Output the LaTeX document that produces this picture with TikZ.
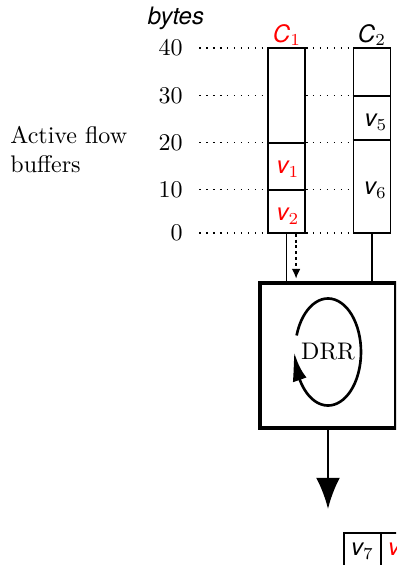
\documentclass[tikz,border=0pt]{standalone}
\usepackage{fontspec}
\newfontfamily\hv{TeX Gyre Heros}
\usetikzlibrary{arrows.meta,bending}

% sans italic letter for queue and packet names
\newcommand{\sv}[1]{{\hv\itshape #1}}

\begin{document}
\begin{tikzpicture}[x=0.4167pt, y=-0.4167pt,
  every node/.style={inner sep=0pt},
  buf/.style={draw, line width=0.8pt, minimum width=15.42pt, minimum height=77.1pt},
  cell/.style={draw, line width=0.55pt, minimum width=15.42pt, minimum height=15.42pt},
  sched/.style={draw, line width=1.3pt, minimum width=56.67pt, minimum height=60.42pt},
  divider/.style={line width=0.8pt},
  guide/.style={line width=0.65pt, dash pattern=on 0.65pt off 2.25pt},
  wire/.style={line width=0.6pt},
  hint/.style={line width=0.6pt, dash pattern=on 1.2pt off 1.2pt, -{Latex[length=4pt,width=3.6pt]}, shorten >=1.2pt},
  drrloop/.style={line width=1.1pt, -{Latex[length=12pt,width=6pt,bend]}},
  outlink/.style={line width=1.1pt, -{Latex[length=13pt,width=10pt]}},
  level/.style={anchor=east}
]
\useasboundingbox (0,0) rectangle (396,565);
\clip (0,0) rectangle (396,565);

% axis
\node (unit) at (176,18.5) {\sv{bytes}};
\node[level] (n40) at (183,48) {40};
\node[level] (n30) at (183,95.3) {30};
\node[level] (n20) at (183,142.3) {20};
\node[level] (n10) at (183,189.3) {10};
\node[level] (n0)  at (183,233) {0};

\node[anchor=north west, align=left] (title) at (10,126) {Active flow\\buffers};

% flow buffers
\node[buf] (c1) at (286.5,140.5) {};
\node[buf] (c2) at (372,140.5) {};
\node[red] (c1name) at (287,35) {\sv{C}$_1$};
\node (c2name) at (372,35) {\sv{C}$_2$};

\draw[divider] (c1.south west) ++(0,-44) -- ++(37,0);
\draw[divider] (c1.south west) ++(0,-91) -- ++(37,0);
\draw[divider] (c2.south west) ++(0,-94) -- ++(37,0);
\draw[divider] (c2.south west) ++(0,-138) -- ++(37,0);

\node[red] (v1) at (288,169) {\sv{v}$_1$};
\node[red] (v2) at (288,216) {\sv{v}$_2$};
\node (v5) at (376,122) {\sv{v}$_5$};
\node (v6) at (375.5,190) {\sv{v}$_6$};

% dotted level lines
\foreach \n in {n40,n30,n20,n10,n0} {
  \draw[guide] ([xshift=6.7pt]\n.east) -- (c1.west |- \n.east);
  \draw[guide] (c1.east |- \n.east) -- (c2.west |- \n.east);
}

% scheduler
\node[sched] (drr) at (328,355.5) {};
\node (drrname) at (328,352) {DRR};
\draw[drrloop] (drrname.center) ++(162:13.75pt and 22.3pt)
  arc[start angle=162, end angle=-180, x radius=13.75pt, y radius=22.3pt];

\draw[wire] (c1.south) -- (c1.south |- drr.north);
\draw[wire] (c2.south) -- (c2.south |- drr.north);
\draw[hint] ([xshift=4pt]c1.south) -- ([xshift=4pt]c1.south |- drr.north);

% output link
\coordinate (sink) at (328,509);
\draw[outlink] (drr.south) -- (sink);
\node[cell] (o7) at (362.5,551.5) {\sv{v}$_7$};
\node[cell, text=red] (o8) at (399.5,551.5) {\sv{v}$_3$};
\end{tikzpicture}
\end{document}
